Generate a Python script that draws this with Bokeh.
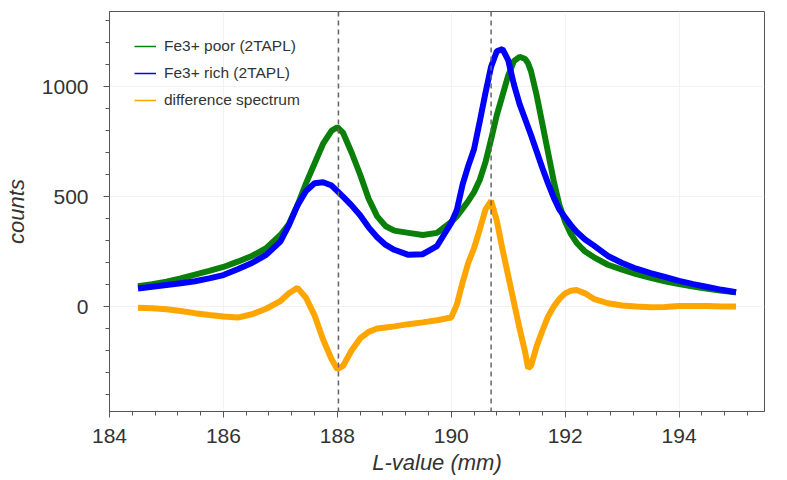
from bokeh.plotting import figure
from bokeh.models import Range1d, FixedTicker, Span, Legend, LegendItem, ColumnDataSource
from bokeh.embed import file_html
from bokeh.resources import INLINE

# L-value (mm)
l_value = [184.5, 184.75, 185.0, 185.25, 185.5, 185.75, 186.0, 186.25, 186.5, 186.75,
           187.0, 187.15, 187.3, 187.45, 187.6, 187.75, 187.9, 188.0, 188.1, 188.25,
           188.4, 188.55, 188.7, 188.85, 189.0, 189.25, 189.5, 189.75, 190.0, 190.1,
           190.2, 190.3, 190.4, 190.5, 190.6, 190.7, 190.8, 190.9, 191.0, 191.1,
           191.2, 191.3, 191.35, 191.4, 191.5, 191.6, 191.7, 191.8, 191.9, 192.0,
           192.1, 192.2, 192.35, 192.5, 192.75, 193.0, 193.25, 193.5, 193.75, 194.0,
           194.25, 194.5, 194.75, 195.0]

fe3_poor = [92, 102, 113, 128, 145, 162, 180, 204, 230, 265,
            325, 375, 460, 560, 650, 740, 800, 815, 790, 700,
            600, 490, 410, 365, 345, 335, 325, 335, 385, 410,
            445, 480, 520, 575, 655, 760, 870, 960, 1050, 1115,
            1135, 1125, 1105, 1070, 960, 830, 700, 570, 460, 385,
            330, 290, 250, 225, 190, 168, 147, 130, 115, 102,
            91, 81, 72, 65]

fe3_rich = [82, 90, 98, 106, 115, 128, 143, 170, 198, 235,
            295, 370, 460, 525, 560, 565, 550, 525, 500, 460,
            415, 360, 315, 280, 258, 235, 238, 275, 380, 440,
            555, 640, 715, 840, 970, 1090, 1160, 1170, 1120, 1010,
            920, 850, 815, 780, 705, 630, 560, 495, 440, 405,
            370, 340, 305, 278, 230, 198, 172, 152, 135, 117,
            102, 89, 76, 65]

difference = [-5, -8, -12, -20, -30, -38, -45, -50, -35, -10,
              25, 60, 85, 40, -40, -150, -240, -285, -270, -200,
              -145, -115, -100, -95, -90, -80, -72, -62, -50, 10,
              110, 200, 265, 350, 440, 480, 390, 260, 140, 20,
              -100, -210, -280, -270, -180, -110, -45, 0, 35, 60,
              72, 75, 60, 35, 15, 5, 0, -3, -2, 2,
              3, 2, 0, 0]

peak_positions = [188.02, 190.7]

x_major = [184, 186, 188, 190, 192, 194]
x_minor = [round(184 + 0.4 * i, 1) for i in range(29)]
y_major = [0, 500, 1000]
y_minor = list(range(-400, 1301, 100))

labels = ["Fe3+ poor (2TAPL)", "Fe3+ rich (2TAPL)", "difference spectrum"]
colors = ["#0a800a", "#0000ff", "#ffa500"]

src = ColumnDataSource(dict(x=l_value, poor=fe3_poor, rich=fe3_rich, diff=difference))

p = figure(width=787, height=480, output_backend="svg", toolbar_location=None,
           x_range=Range1d(184, 195.5), y_range=Range1d(-477, 1341),
           min_border_left=108, min_border_right=23, min_border_top=11, min_border_bottom=69)

p.background_fill_color = "white"
p.border_fill_color = "white"
p.outline_line_color = "#555555"
p.outline_line_width = 1

p.line("x", "poor", source=src, color=colors[0], line_width=6)
p.line("x", "rich", source=src, color=colors[1], line_width=6)
p.line("x", "diff", source=src, color=colors[2], line_width=6)

for xv in peak_positions:
    p.add_layout(Span(location=xv, dimension="height", line_color="#666666",
                      line_dash="5 4", line_width=1.5))

# thin legend glyphs (no data drawn)
nan = float("nan")
r_leg = [p.line([nan], [nan], color=c, line_width=1.5) for c in colors]
legend = Legend(items=[LegendItem(label=l, renderers=[r]) for l, r in zip(labels, r_leg)],
                location="top_left", border_line_color=None, background_fill_alpha=0,
                margin=25, padding=0, spacing=7, glyph_width=22, glyph_height=20,
                label_height=20, label_standoff=8, label_text_font="Liberation Sans",
                label_text_font_size="15.5px", label_text_color="#333333")
p.add_layout(legend)

p.xaxis.ticker = FixedTicker(ticks=x_major, minor_ticks=x_minor)
p.yaxis.ticker = FixedTicker(ticks=y_major, minor_ticks=y_minor)

for ax in (p.xaxis, p.yaxis):
    ax.axis_line_color = "#555555"
    ax.major_tick_line_color = "#555555"
    ax.minor_tick_line_color = "#555555"
    ax.major_tick_out = 6
    ax.major_tick_in = 0
    ax.minor_tick_out = 4
    ax.minor_tick_in = 0
    ax.major_label_text_font = "Liberation Sans"
    ax.major_label_text_font_size = "21px"
    ax.major_label_text_color = "#333333"
    ax.axis_label_text_font = "Liberation Sans"
    ax.axis_label_text_font_size = "22px"
    ax.axis_label_text_font_style = "italic"
    ax.axis_label_text_color = "#333333"

p.xaxis.axis_label = "L-value (mm)"
p.yaxis.axis_label = "counts"
p.xaxis.major_label_standoff = 11
p.yaxis.major_label_standoff = 15
p.xaxis.axis_label_standoff = 4
p.yaxis.axis_label_standoff = 10

p.xgrid.ticker = FixedTicker(ticks=x_major)
p.ygrid.ticker = FixedTicker(ticks=y_major)
p.grid.grid_line_color = "#f2f2f2"

open("out.html", "w").write(file_html(p, INLINE))
